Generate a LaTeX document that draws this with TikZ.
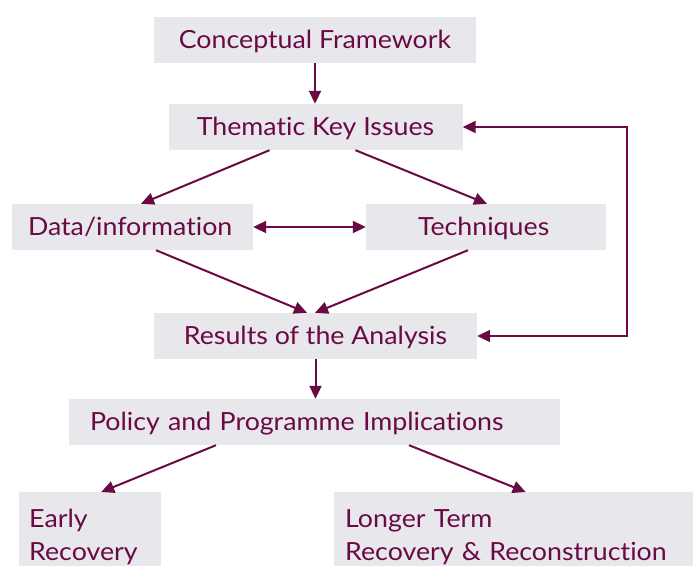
\documentclass[tikz,border=0pt]{standalone}
\usepackage{fontspec}
\setmainfont[FakeStretch=1.07, Ligatures=NoCommon]{Lato}
\usetikzlibrary{arrows.meta}
\definecolor{maroon}{HTML}{6A0A45}
\definecolor{boxgray}{HTML}{E8E8EC}
\tikzset{
  box/.style={fill=boxgray, draw=none, inner ysep=0pt, minimum height=46pt, text=maroon,
    font=\fontsize{25}{33}\selectfont},
  onebox/.style={box, text height=19.5pt, text depth=3.5pt},
  cbox/.style={onebox, inner xsep=0pt},
  lbox/.style={onebox, inner xsep=#1, align=left},
  arr/.style={draw=maroon, line width=2pt, -{Triangle[length=13pt,width=12pt]}},
  darr/.style={draw=maroon, line width=2pt, {Triangle[length=13pt,width=12pt]}-{Triangle[length=13pt,width=12pt]}},
}
\begin{document}
\begin{tikzpicture}[x=1pt,y=-1pt]
\clip (0,0) rectangle (693,565);
\fill[white] (0,0) rectangle (693,565);

\node[cbox, minimum width=322pt] (concept) at (315,40) {Conceptual Framework};
\node[cbox, minimum width=294pt] (thematic) at (315.5,127) {Thematic Key Issues};
\node[lbox=16pt, text width=209pt, minimum width=241pt] (data) at (132.5,227) {Data/information};
\node[lbox=52pt, text width=136pt, minimum width=240pt] (tech) at (486,227) {Techniques};
\node[cbox, minimum width=323pt] (results) at (315.5,336) {Results of the Analysis};
\node[lbox=21pt, text width=449pt, minimum width=491pt] (policy) at (314.5,422) {Policy and Programme Implications};
\node[box, anchor=north west, inner xsep=10pt, text width=122pt, align=left] (early) at (19,492)
  {\rule{0pt}{35pt}Early\\Recovery\rule[-20pt]{0pt}{20pt}};
\node[box, anchor=north west, inner xsep=11pt, text width=340pt, align=left] (longer) at (334,492)
  {\rule{0pt}{35pt}Longer Term\\Recovery \& Reconstruction\rule[-20pt]{0pt}{20pt}};

\coordinate (fb) at (627,0);

\draw[arr] (concept.south) -- (concept.south |- thematic.north);
\draw[arr] ([xshift=-46pt]thematic.south) -- ([xshift=8.5pt]data.north);
\draw[arr] ([xshift=40pt]thematic.south) -- ([xshift=1pt]tech.north);
\draw[darr] (data.east) -- (tech.west);
\draw[arr] ([xshift=23.5pt]data.south) -- ([xshift=-8.5pt]results.north);
\draw[arr] ([xshift=-18pt]tech.south) -- ([xshift=-0.5pt]results.north);
\draw[arr] (results.south) -- (results.south |- policy.north);
\draw[arr] ([xshift=-98.5pt]policy.south) -- ([xshift=11pt]early.north);
\draw[arr] ([xshift=94.5pt]policy.south) -- ([xshift=10.5pt]longer.north);
\draw[darr] (thematic.east) -- (thematic.east -| fb) -- (results.east -| fb) -- (results.east);
\end{tikzpicture}
\end{document}
